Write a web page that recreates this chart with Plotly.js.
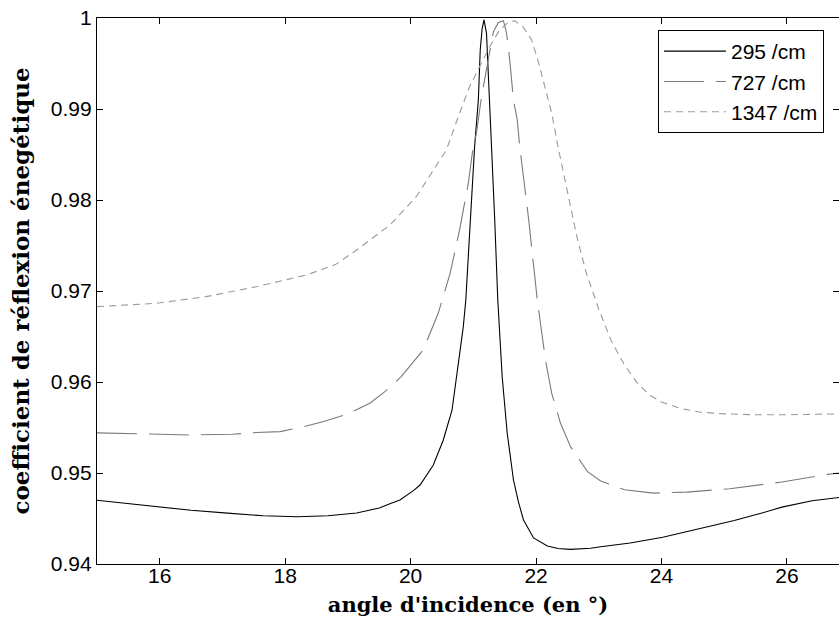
<!DOCTYPE html>
<html>
<head>
<meta charset="utf-8">
<script src="https://cdn.plot.ly/plotly-3.0.1.min.js"></script>
<style>html,body{margin:0;padding:0;background:#fff;}#chart{width:839px;height:623px;}</style>
</head>
<body>
<div id="chart"></div>
<script>
// Series names
const seriesNames = ["295 /cm", "727 /cm", "1347 /cm"];

// 295 /cm (black, solid)
const x295 = [15.0, 15.5, 16.0, 16.5, 17.08, 17.65, 18.2, 18.68, 19.14, 19.5, 19.67, 19.83, 20.05, 20.15, 20.36, 20.52, 20.66, 20.76, 20.84, 20.88, 20.96, 21.02, 21.08, 21.11, 21.14, 21.17, 21.21, 21.25, 21.29, 21.34, 21.39, 21.46, 21.54, 21.64, 21.72, 21.80, 21.96, 22.18, 22.35, 22.55, 22.87, 23.03, 23.5, 24.02, 24.6, 25.16, 25.6, 25.92, 26.4, 26.83];
const y295 = [0.9470, 0.94665, 0.94625, 0.9459, 0.94559, 0.9453, 0.9452, 0.9453, 0.9456, 0.94615, 0.94662, 0.94703, 0.94809, 0.94868, 0.95085, 0.9536, 0.9569, 0.96168, 0.96608, 0.96901, 0.9780, 0.98586, 0.9910, 0.99648, 0.9988, 0.9998, 0.99832, 0.99282, 0.98586, 0.978, 0.9690, 0.96058, 0.9544, 0.94923, 0.9468, 0.94484, 0.94286, 0.94198, 0.9417, 0.94161, 0.94173, 0.9419, 0.9423, 0.94294, 0.9439, 0.94478, 0.9456, 0.94625, 0.94695, 0.94730];

// 727 /cm (grey, long dashes)
const x727 = [15.0, 15.8, 16.48, 17.16, 17.54, 17.92, 18.3, 18.6, 19.0, 19.35, 19.6, 19.85, 20.2, 20.44, 20.63, 20.78, 20.92, 20.99, 21.05, 21.13, 21.21, 21.26, 21.32, 21.40, 21.48, 21.53, 21.58, 21.64, 21.70, 21.74, 21.88, 22.02, 22.15, 22.25, 22.39, 22.55, 22.82, 23.03, 23.41, 23.87, 24.40, 25.09, 25.92, 26.65, 26.83];
const y727 = [0.95441, 0.95425, 0.95418, 0.95426, 0.95445, 0.95455, 0.9551, 0.95564, 0.9565, 0.95766, 0.9590, 0.96058, 0.96352, 0.96755, 0.97194, 0.97670, 0.98183, 0.98549, 0.98736, 0.99135, 0.99429, 0.99612, 0.9985, 0.9995, 0.9997, 0.99832, 0.99538, 0.9910, 0.98879, 0.98586, 0.978, 0.969, 0.96242, 0.95876, 0.95546, 0.95289, 0.95015, 0.94912, 0.94816, 0.94779, 0.9479, 0.94827, 0.94901, 0.94985, 0.9500];

// 1347 /cm (light grey, short dashes)
const x1347 = [15.0, 15.95, 16.74, 17.54, 18.34, 18.8, 19.14, 19.67, 20.09, 20.36, 20.57, 20.78, 20.94, 21.10, 21.26, 21.42, 21.55, 21.66, 21.79, 21.93, 22.03, 22.14, 22.25, 22.35, 22.5, 22.65, 22.8, 23.0, 23.2, 23.4, 23.6, 23.8, 24.0, 24.3, 24.6, 25.0, 25.5, 26.0, 26.83];
const y1347 = [0.96828, 0.96865, 0.96938, 0.97047, 0.97176, 0.9729, 0.97451, 0.97725, 0.98036, 0.98330, 0.98549, 0.98953, 0.99245, 0.99465, 0.99685, 0.99868, 0.9995, 0.9997, 0.99905, 0.99758, 0.99538, 0.99245, 0.98953, 0.98586, 0.981, 0.976, 0.972, 0.968, 0.9645, 0.962, 0.9600, 0.9586, 0.9578, 0.9571, 0.9567, 0.9565, 0.9564, 0.9564, 0.9565];

// Tick labels
const xTickVals = [16, 18, 20, 22, 24, 26];
const xTickText = ["16", "18", "20", "22", "24", "26"];
const yTickVals = [0.94, 0.95, 0.96, 0.97, 0.98, 0.99, 1.0];
const yTickText = ["0.94", "0.95", "0.96", "0.97", "0.98", "0.99", "1"];

const tickFont = {family: "Liberation Sans, Arial, sans-serif", size: 21, color: "#000"};

const traces = [
  {x: x295, y: y295, name: seriesNames[0], mode: "lines", line: {color: "#000000", width: 1.1}},
  {x: x727, y: y727, name: seriesNames[1], mode: "lines", line: {color: "#7a7a7a", width: 1.1, dash: "40px,12px"}},
  {x: x1347, y: y1347, name: seriesNames[2], mode: "lines", line: {color: "#9a9a9a", width: 1.1, dash: "7px,5px"}}
];

const axisCommon = {
  showline: true, linecolor: "#000", linewidth: 1.2, mirror: "ticks",
  ticks: "inside", ticklen: 6, tickcolor: "#000", tickwidth: 1,
  showgrid: false, zeroline: false, tickfont: tickFont
};

const layout = {
  width: 839, height: 623,
  margin: {l: 97, r: 0, t: 18, b: 59},
  paper_bgcolor: "#fff", plot_bgcolor: "#fff",
  showlegend: true,
  legend: {x: 0.756, y: 0.978, xanchor: "left", yanchor: "top",
           bordercolor: "#000", borderwidth: 1, bgcolor: "#fff",
           itemwidth: 62,
           font: {family: "Liberation Sans, Arial, sans-serif", size: 21, color: "#000"},
           tracegroupgap: 0},
  xaxis: Object.assign({}, axisCommon, {
    range: [15, 26.83], tickmode: "array", tickvals: xTickVals, ticktext: xTickText,
    ticklabelstandoff: -7,
    title: {text: "angle d'incidence (en °)", font: {family: "DejaVu Serif, serif", size: 21, color: "#000", weight: "bold"}, standoff: 10}
  }),
  yaxis: Object.assign({}, axisCommon, {
    range: [0.94, 1.0], tickmode: "array", tickvals: yTickVals, ticktext: yTickText,
    title: {text: "coefficient de réflexion énegétique", font: {family: "DejaVu Serif, serif", size: 23, color: "#000", weight: "bold"}, standoff: 14}
  })
};

Plotly.newPlot("chart", traces, layout, {staticPlot: true, displayModeBar: false});
</script>
</body>
</html>
